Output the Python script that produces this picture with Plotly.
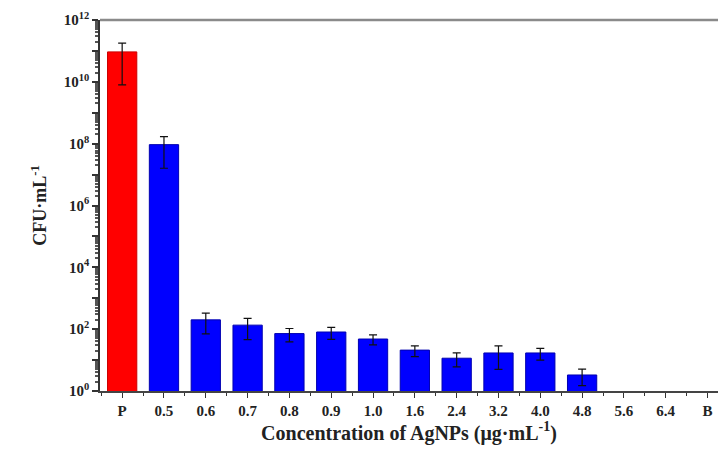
import plotly.graph_objects as go

categories = ["P", "0.5", "0.6", "0.7", "0.8", "0.9", "1.0", "1.6", "2.4", "3.2", "4.0", "4.8", "5.6", "6.4", "B"]
cfu_values = [9.3e10, 9.3e7, 200, 135, 72, 81, 48, 21, 11.5, 17, 17, 3.3, None, None, None]
cfu_errors = [8.5e10, 7.7e7, 130, 89, 33, 34, 17, 8, 5.5, 12, 7, 1.8, None, None, None]
bar_colors = ["#ff0000"] + ["#0000ff"] * 14
y_decades = list(range(0, 13))
y_tick_labels = {0: "10<sup>0</sup>", 2: "10<sup>2</sup>", 4: "10<sup>4</sup>", 6: "10<sup>6</sup>",
                 8: "10<sup>8</sup>", 10: "10<sup>10</sup>", 12: "10<sup>12</sup>"}

FONT = "Liberation Serif"
x_idx = list(range(len(categories)))

y_tick_vals = [10.0 ** d for d in y_decades]
y_tick_text = [y_tick_labels.get(d, "") for d in y_decades]
y_minor_vals = [m * 10.0 ** d for d in range(0, 12) for m in range(2, 10)]

fig = go.Figure()
fig.add_trace(go.Bar(
    x=x_idx, y=cfu_values,
    width=0.7,
    marker=dict(color=bar_colors, line=dict(color=["#cc0000"] + ["#0000b0"] * 14, width=1)),
    error_y=dict(type="data", array=cfu_errors, visible=True, color="#111111",
                 thickness=1.2, width=4),
))

fig.update_layout(
    width=710, height=440,
    margin=dict(l=92, r=0, t=12, b=57),
    paper_bgcolor="white", plot_bgcolor="white",
    showlegend=False,
    font=dict(family=FONT, color="#222222"),
    xaxis=dict(
        range=[-0.53, 14.25],
        tickvals=x_idx, ticktext=categories,
        ticks="outside", ticklen=5, tickwidth=1, tickcolor="#333",
        minor=dict(tickvals=[i + 0.5 for i in range(-1, 15)], ticks="outside", ticklen=3, tickcolor="#333"),
        showline=True, linecolor="#444", linewidth=1.5, mirror=False,
        showgrid=False, zeroline=False,
        tickfont=dict(family=FONT, size=15, color="#222", weight="bold"),
        title=dict(text="Concentration of AgNPs (μg·mL<sup>-1</sup>)",
                   font=dict(family=FONT, size=20, color="#222", weight="bold"), standoff=8),
    ),
    yaxis=dict(
        type="log", range=[0, 12],
        tickvals=y_tick_vals, ticktext=y_tick_text,
        ticks="outside", ticklen=6, tickwidth=1.5, tickcolor="#333",
        minor=dict(tickvals=y_minor_vals, ticks="outside", ticklen=3, tickcolor="#555", showgrid=False),
        showline=True, linecolor="#333", linewidth=1.5,
        showgrid=False, zeroline=False,
        tickfont=dict(family=FONT, size=15, color="#222", weight="bold"),
        title=dict(text="CFU·mL<sup>-1</sup>",
                   font=dict(family=FONT, size=18, color="#222", weight="bold"), standoff=12),
    ),
)
fig.add_shape(type="line", xref="paper", yref="paper", x0=0, x1=1, y0=1, y1=1,
              line=dict(color="#8a8a8a", width=2.5))

fig.write_html("out.html")
